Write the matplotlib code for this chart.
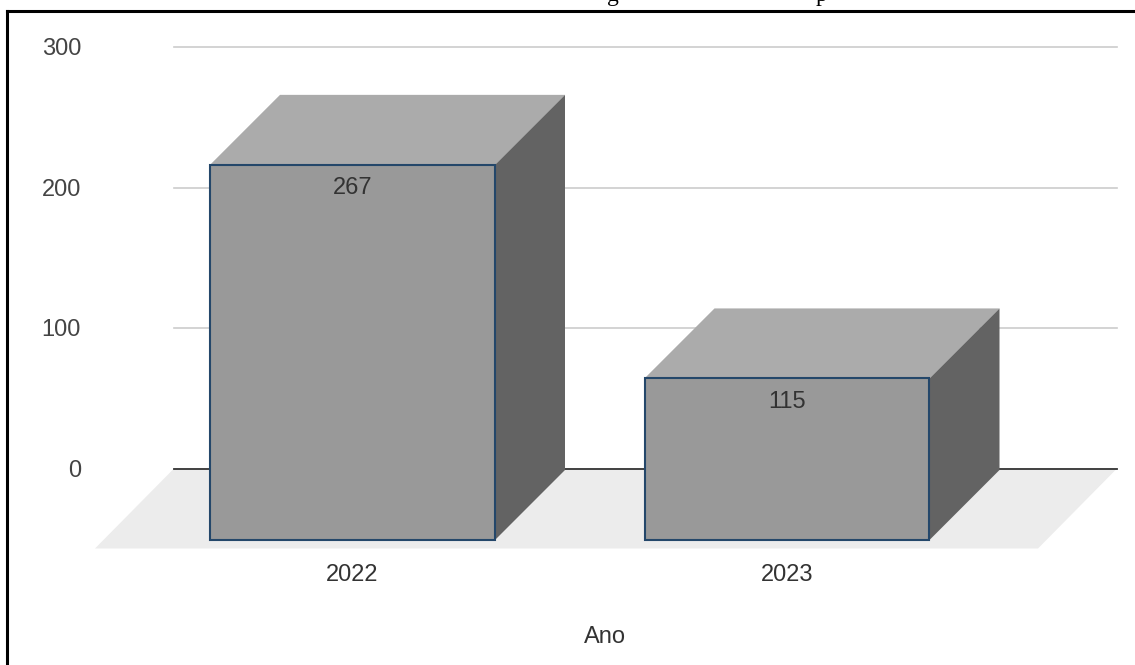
import matplotlib
matplotlib.use('Agg')
import matplotlib.pyplot as plt
from matplotlib.patches import Polygon

plt.rcParams['font.family'] = ['Liberation Sans', 'DejaVu Sans']

anos = ['2022', '2023']
valores = [267, 115]
y_ticks = [0, 100, 200, 300]
x_label = 'Ano'

W, H = 1135, 665
LEFT, TOP = 7, 11

# sizes of the fake 3D box, x in category units, y in value units
px_x = 434.5
px_y = 1.405
bar_w = 285 / px_x
dx = 70 / px_x
dy = 70 / px_y
box_shift = 1.5 / px_y

fig = plt.figure(figsize=(W / 100, H / 100), dpi=100)
ax = fig.add_axes([LEFT / W, 0, 1 - LEFT / W, 1 - TOP / H])
ax.set_xlim((LEFT - 352.5) / px_x, (W - 352.5) / px_x)
ax.set_ylim((468.5 - H) / px_y, (468.5 - TOP) / px_y)
ax.set_xticks([])
ax.set_yticks([])
for s in ['right', 'bottom']:
    ax.spines[s].set_visible(False)
for s in ['left', 'top']:
    ax.spines[s].set_linewidth(2.2)
    ax.spines[s].set_color('black')

# floor
x0 = (174 - 352.5) / px_x
x1 = (1117 - 352.5) / px_x
floor_dx = 79 / px_x
floor_dy = 80 / px_y
ax.add_patch(Polygon([(x0, 0), (x1, 0), (x1 - floor_dx, -floor_dy), (x0 - floor_dx, -floor_dy)],
                     fc='#ececec', ec='none', zorder=1))

# grid
for t in y_ticks:
    if t == 0:
        ax.plot([x0, x1], [t, t], color='#333333', lw=1.3, zorder=2)
    else:
        ax.plot([x0, x1], [t, t], color='#cccccc', lw=1.2, zorder=2)
    ax.text((81 - 352.5) / px_x, t - 1.7, str(t), ha='right', va='center',
            fontsize=17, color='#444444', zorder=5)

# bars
for i, (ano, v) in enumerate(zip(anos, valores)):
    l = i - bar_w / 2
    r = i + bar_w / 2
    b = -dy - box_shift
    t = v - dy - box_shift
    ax.add_patch(Polygon([(l, t), (r, t), (r + dx, t + dy), (l + dx, t + dy)],
                         fc='#ababab', ec='none', zorder=3))
    ax.add_patch(Polygon([(r, b), (r + dx, b + dy), (r + dx, t + dy), (r, t)],
                         fc='#636363', ec='none', zorder=3))
    ax.add_patch(Polygon([(l, b), (r, b), (r, t), (l, t)],
                         fc='#999999', ec='#24476a', lw=1.5, zorder=4))
    ax.text(i, t - 23.5 / px_y, str(v), ha='center', va='center',
            fontsize=17, color='#333333', zorder=5)
    ax.text(i, -76, ano, ha='center', va='center',
            fontsize=17, color='#333333', zorder=5)

ax.text(0.581, -120, x_label, ha='center', va='center',
        fontsize=17, color='#333333', zorder=5)

# descenders of the caption line running off the top edge
for c, px in [('g', 613), ('p', 822)]:
    fig.text(px / W, 1 - 0.5 / H, c, ha='center', va='baseline',
             family='Liberation Serif', fontsize=17, color='black')

fig.savefig('out.png', dpi=100)
